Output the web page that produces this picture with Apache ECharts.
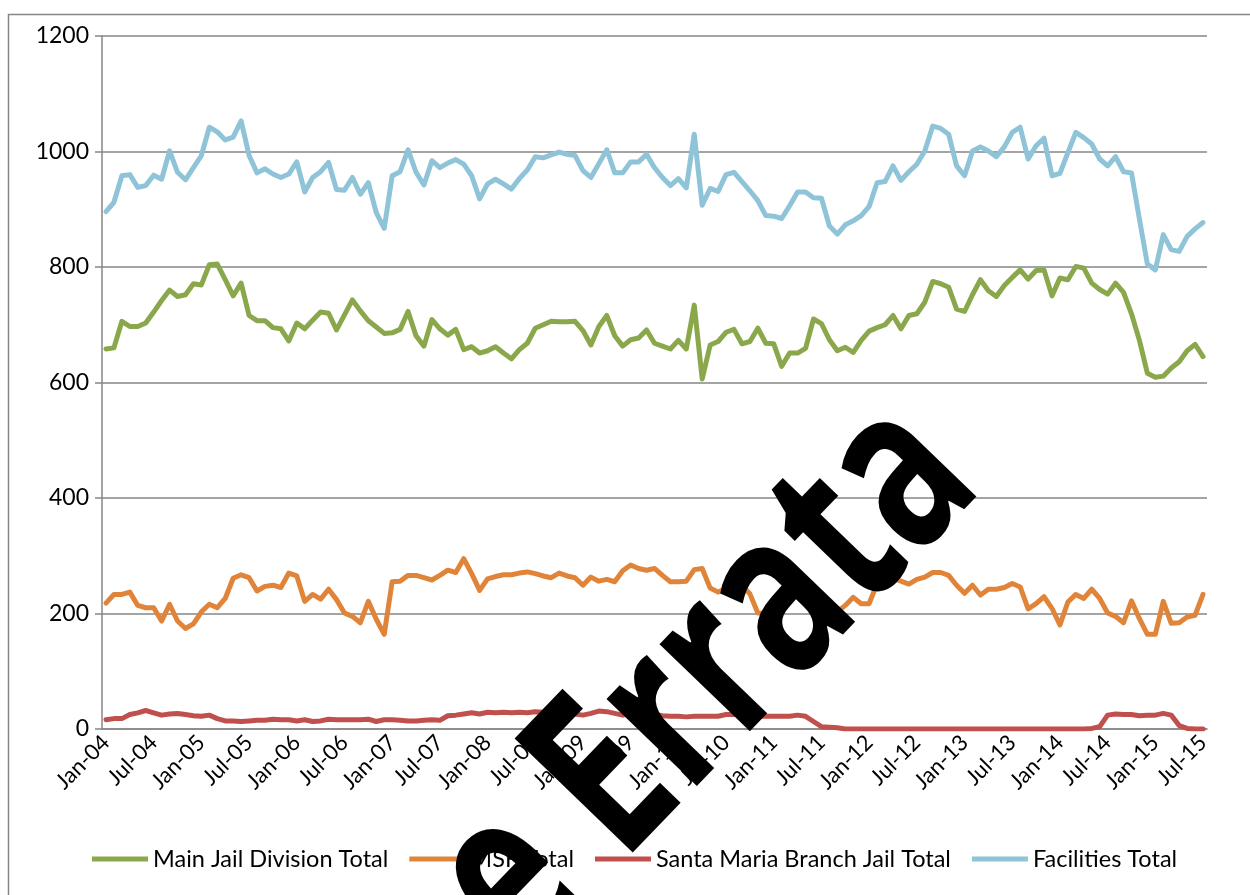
<!DOCTYPE html>
<html>
<head>
<meta charset="utf-8">
<script src="https://cdn.jsdelivr.net/npm/echarts@6/dist/echarts.min.js"></script>
<style>
  html, body { margin: 0; padding: 0; background: #fff; }
  #chart { width: 1250px; height: 895px; }
</style>
</head>
<body>
<div id="chart"></div>
<script type="text/javascript">
  // month labels Jan-04 .. Jul-15
  var monthNames = ['Jan','Feb','Mar','Apr','May','Jun','Jul','Aug','Sep','Oct','Nov','Dec'];
  var yearLabels = ['04','05','06','07','08','09','10','11','12','13','14','15'];
  var months = [];
  yearLabels.forEach(function (yy, k) {
    monthNames.forEach(function (m, j) {
      if (k < 11 || j <= 6) months.push(m + '-' + yy);
    });
  });

  var mainJail = [
    658,660,706,697,697,703,722,742,760,749,752,771,769,804,805,778,750,772,716,707,
    707,695,693,672,703,693,708,722,720,691,717,743,724,707,696,685,686,692,723,681,
    663,709,693,682,692,657,662,651,655,662,651,641,657,668,694,700,706,705,705,706,
    690,665,697,716,681,663,674,677,691,668,663,658,673,658,734,606,665,671,687,692,
    667,671,694,668,667,628,651,651,659,710,702,674,655,661,652,673,689,695,700,716,
    693,716,719,739,775,771,765,727,723,752,778,759,749,768,782,795,779,794,795,750,
    781,778,801,798,772,761,753,772,756,719,673,616,609,611,625,636,655,666,645
  ];
  var msf = [
    218,233,233,237,214,210,210,187,216,187,174,182,203,216,210,226,261,267,262,239,
    247,249,245,270,265,221,233,225,242,224,201,195,184,221,190,164,255,256,266,266,
    262,258,266,275,271,295,269,240,260,264,267,267,270,272,269,265,262,270,265,262,
    249,263,256,259,255,274,284,278,275,278,266,255,255,256,276,278,244,237,244,242,
    248,234,201,200,200,235,236,240,230,200,211,199,203,214,228,217,217,252,248,261,
    256,251,259,263,271,271,266,249,235,249,232,242,242,245,252,246,208,217,229,209,
    180,220,233,226,242,226,201,195,184,222,191,164,164,221,183,184,194,197,233
  ];
  var santaMaria = [
    16,18,18,25,28,32,28,24,26,27,25,23,22,24,18,14,14,13,14,15,
    15,17,16,16,14,16,13,14,17,16,16,16,16,17,13,16,16,15,14,14,
    15,16,15,23,24,26,28,26,29,28,29,28,29,28,30,29,28,30,28,26,
    24,27,31,30,27,24,27,26,27,25,23,22,22,21,22,22,22,22,25,25,
    26,23,22,22,22,22,22,24,22,13,4,3,2,0,0,0,0,0,0,0,
    0,0,0,0,0,0,0,0,0,0,0,0,0,0,0,0,0,0,0,0,
    0,0,0,0,1,4,24,26,25,25,23,24,24,27,24,6,1,0,0
  ];
  var facilities = [
    896,912,958,960,938,941,959,952,1001,964,951,972,993,1042,1034,1020,1025,1053,993,963,
    970,961,955,961,982,930,955,965,981,934,933,955,926,946,894,867,958,965,1003,964,
    942,984,972,980,986,978,958,918,944,952,944,935,953,968,991,989,994,999,995,993,
    967,955,979,1003,963,963,982,982,995,972,955,941,953,937,1030,907,936,931,960,964,
    948,932,915,889,888,884,906,930,930,920,919,871,857,873,880,889,905,946,948,975,
    950,965,978,1001,1044,1040,1030,975,958,1001,1008,1001,991,1008,1033,1042,987,1010,1023,958,
    962,998,1033,1024,1013,987,975,991,965,963,883,805,795,856,830,827,853,866,877
  ];

  var seriesNames = ['Main Jail Division Total', 'MSF Total', 'Santa Maria Branch Jail Total', 'Facilities Total'];
  var seriesColors = ['#8aa84b', '#e0843a', '#c0504d', '#8ec3d8'];
  var seriesData = [mainJail, msf, santaMaria, facilities];

  var chart = echarts.init(document.getElementById('chart'));
  var gray = '#868686';
  var font = 'Lato';

  var option = {
    animation: false,
    backgroundColor: '#fff',
    grid: { left: 102, right: 43, top: 36, bottom: 166 },
    legend: {
      left: 87,
      top: 842,
      icon: 'rect',
      itemWidth: 56,
      itemHeight: 5,
      itemGap: 21,
      textStyle: { fontFamily: font, fontSize: 23.5, color: '#000' },
      data: seriesNames
    },
    xAxis: {
      type: 'category',
      data: months,
      boundaryGap: true,
      axisLine: { lineStyle: { color: gray, width: 1.5 } },
      axisTick: { interval: 5, length: 7, lineStyle: { color: gray, width: 1.5 } },
      axisLabel: { interval: 5, rotate: 45, margin: 10, color: '#000', fontFamily: font, fontSize: 22 }
    },
    yAxis: {
      type: 'value',
      min: 0,
      max: 1200,
      interval: 200,
      axisLine: { show: true, lineStyle: { color: gray, width: 1.5 } },
      axisTick: { show: true, length: 7, lineStyle: { color: gray, width: 1.5 } },
      axisLabel: {
        margin: 13, color: '#000', fontFamily: font, fontSize: 23,
        formatter: function (v) { return String(v); }
      },
      splitLine: { lineStyle: { color: gray, width: 1.5 } }
    },
    series: seriesNames.map(function (name, k) {
      return {
        name: name,
        type: 'line',
        data: seriesData[k],
        showSymbol: false,
        color: seriesColors[k],
        lineStyle: { width: 5, color: seriesColors[k], cap: 'round', join: 'round' }
      };
    }),
    graphic: [
      {
        type: 'rect',
        silent: true,
        shape: { x: 8.5, y: 14.5, width: 1400, height: 1000 },
        style: { fill: 'none', stroke: gray, lineWidth: 1.5 },
        z: -1
      },
      {
        // watermark stamped over the chart
        type: 'text',
        silent: true,
        x: 938,
        y: 442,
        scaleX: 0.73,
        rotation: 46 * Math.PI / 180,
        z: 100,
        style: {
          text: 'See Errata',
          font: 'bold 230px "Open Sans"',
          fill: '#000',
          textAlign: 'right',
          textVerticalAlign: 'middle'
        }
      }
    ]
  };

  chart.setOption(option);
</script>
</body>
</html>
